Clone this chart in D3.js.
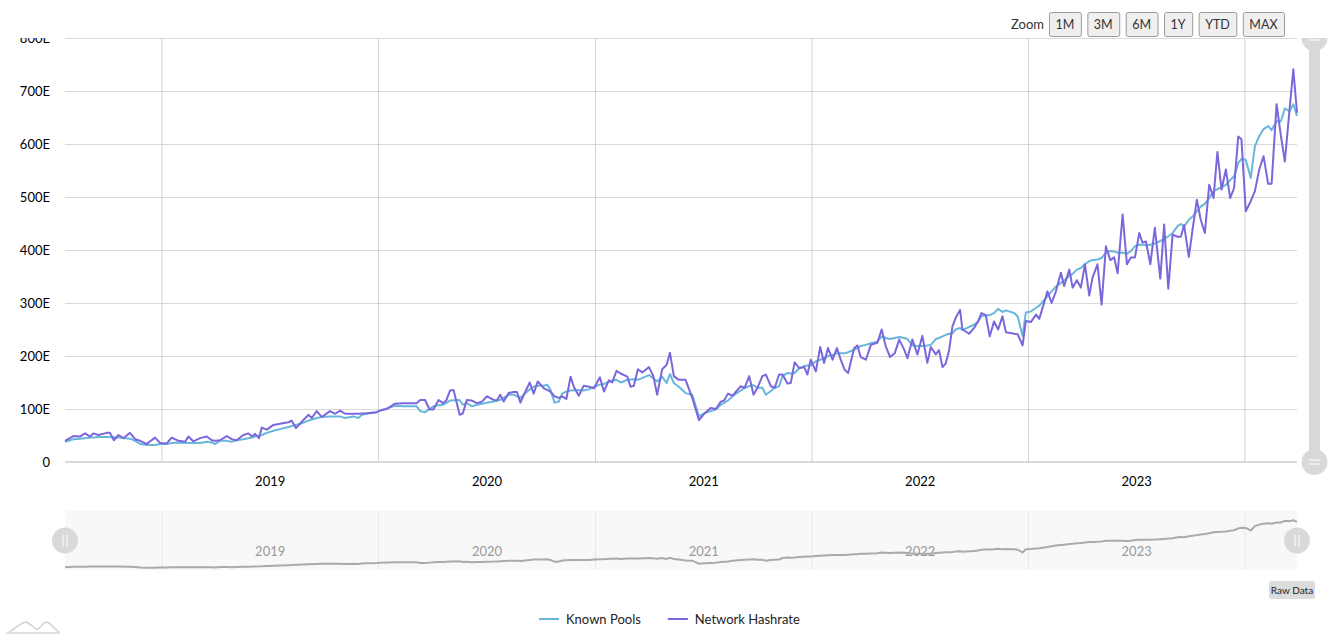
<!DOCTYPE html>
<html>
<head>
<meta charset="utf-8">
<script src="https://cdn.jsdelivr.net/npm/d3@7"></script>
<style>
  body { margin: 0; background: #fff; }
  svg { font-family: Lato, "Open Sans", sans-serif; }
</style>
</head>
<body>
<svg id="chart" width="1344" height="634"></svg>
<script>
// values are [decimal year, hashrate in EH/s]
const yTicks = [0, 100, 200, 300, 400, 500, 600, 700, 800]
const yearTicks = [2019, 2020, 2021, 2022, 2023, 2024]
const yearLabels = [2019, 2020, 2021, 2022, 2023]
const zoomButtons = ['1M', '3M', '6M', '1Y', 'YTD', 'MAX']
const seriesNames = ['Known Pools', 'Network Hashrate']

const knownPools = [
  [2018.552,38],[2018.591,43],[2018.621,44],[2018.645,45],[2018.668,46],[2018.683,46],[2018.706,47],[2018.745,47],
  [2018.799,46],[2018.852,44],[2018.876,40],[2018.899,34],[2018.929,32],[2018.968,32],[2018.991,34],[2019.022,34],
  [2019.045,36],[2019.076,37],[2019.122,36],[2019.145,36],[2019.176,36],[2019.207,38],[2019.230,37],[2019.245,34],
  [2019.268,40],[2019.299,40],[2019.322,38],[2019.345,41],[2019.376,43],[2019.399,45],[2019.415,46],[2019.430,48],
  [2019.461,51],[2019.484,55],[2019.515,59],[2019.545,62],[2019.584,66],[2019.619,70],[2019.646,73],[2019.676,78],
  [2019.715,83],[2019.738,85],[2019.776,86],[2019.823,86],[2019.846,83],[2019.884,86],[2019.907,83],[2019.923,89],
  [2019.946,91],[2019.992,94],
  [2020.007,97],[2020.076,106],[2020.115,105],[2020.176,105],[2020.192,96],[2020.215,94],[2020.235,100],[2020.253,105],
  [2020.277,107],[2020.297,108],[2020.312,111],[2020.330,116],[2020.374,117],[2020.389,108],[2020.407,111],[2020.431,105],
  [2020.454,108],[2020.477,110],[2020.500,112],[2020.531,114],[2020.546,116],[2020.561,117],[2020.600,127],[2020.623,127],
  [2020.638,124],[2020.654,121],[2020.677,130],[2020.697,137],[2020.715,142],[2020.734,144],[2020.762,144],[2020.777,146],
  [2020.792,137],[2020.811,112],[2020.831,114],[2020.846,129],[2020.866,133],[2020.885,135],[2020.923,136],[2020.946,135],
  [2020.970,137],[2020.993,142],[2021.020,146],[2021.039,147],[2021.062,152],[2021.097,155],[2021.116,150],[2021.147,155],
  [2021.177,156],[2021.196,155],[2021.247,164],[2021.285,152],[2021.308,161],[2021.328,149],[2021.344,166],[2021.362,149],
  [2021.385,142],[2021.416,130],[2021.447,127],
  [2021.478,86],[2021.502,92],[2021.532,96],[2021.556,99],[2021.579,108],[2021.612,116],[2021.633,124],[2021.671,135],
  [2021.689,140],[2021.710,143],[2021.730,145],[2021.748,140],[2021.771,140],[2021.787,127],[2021.810,134],[2021.828,140],
  [2021.848,143],[2021.864,162],[2021.887,168],[2021.902,167],[2021.920,168],[2021.941,177],[2021.964,181],[2021.979,182],
  [2021.994,182],[2022.018,190],[2022.038,193],[2022.056,196],[2022.074,200],[2022.095,202],[2022.115,205],[2022.133,205],
  [2022.151,205],[2022.167,207],[2022.195,212],[2022.210,215],[2022.225,219],[2022.249,221],[2022.272,224],[2022.302,227],
  [2022.322,237],[2022.341,234],[2022.361,232],[2022.382,234],[2022.403,236],[2022.426,234],[2022.441,232],[2022.464,220],
  [2022.487,219],[2022.510,219],[2022.533,220],[2022.549,221],[2022.572,232],[2022.587,234],[2022.603,237],[2022.618,240],
  [2022.634,242],[2022.649,243],[2022.664,250],[2022.684,253],[2022.695,249],[2022.726,255],[2022.749,259],[2022.767,265],
  [2022.783,275],[2022.803,277],[2022.821,277],[2022.841,281],[2022.860,289],[2022.880,283],[2022.896,286],[2022.934,281],
  [2022.950,275],[2022.973,238],[2022.988,282],[2023.011,284],[2023.035,291],[2023.050,295],[2023.088,313],[2023.107,322],
  [2023.127,331],[2023.150,338],[2023.165,343],[2023.189,351],[2023.204,355],[2023.224,363],[2023.242,366],[2023.261,373],
  [2023.281,379],[2023.296,381],[2023.319,382],[2023.338,385],[2023.358,395],[2023.378,398],[2023.396,397],[2023.412,395],
  [2023.435,395],[2023.455,393],[2023.473,398],[2023.492,407],[2023.512,410],[2023.527,410],[2023.543,409],[2023.563,410],
  [2023.584,412],[2023.609,417],[2023.627,421],[2023.646,426],[2023.666,432],[2023.689,445],
  [2023.704,449],[2023.719,444],[2023.741,457],[2023.758,463],[2023.778,473],[2023.796,482],[2023.815,487],[2023.835,498],
  [2023.855,511],[2023.873,515],[2023.892,518],[2023.912,523],[2023.932,532],[2023.950,539],[2023.969,564],[2023.984,572],
  [2024.004,570],[2024.027,536],[2024.046,596],[2024.066,615],[2024.086,628],[2024.107,634],[2024.123,626],[2024.146,643],
  [2024.166,643],[2024.184,667],[2024.205,662],[2024.223,675],[2024.240,653]
]

const networkHashrate = [
  [2018.552,40],[2018.591,49],[2018.621,48],[2018.645,54],[2018.668,48],[2018.683,54],[2018.706,51],[2018.745,55],
  [2018.760,55],[2018.778,41],[2018.799,51],[2018.822,45],[2018.852,55],[2018.876,43],[2018.899,40],[2018.929,34],
  [2018.968,46],[2018.991,36],[2019.022,35],[2019.045,46],[2019.076,40],[2019.107,38],[2019.122,48],[2019.145,39],
  [2019.176,45],[2019.207,48],[2019.230,41],[2019.245,40],[2019.268,41],[2019.299,49],[2019.322,43],[2019.345,41],
  [2019.376,51],[2019.399,54],[2019.415,48],[2019.430,53],[2019.448,45],[2019.461,65],[2019.484,61],[2019.515,70],
  [2019.545,72],[2019.584,75],[2019.599,78],[2019.619,64],[2019.646,76],[2019.676,89],[2019.692,83],[2019.715,96],
  [2019.738,85],[2019.776,96],[2019.800,91],[2019.823,97],[2019.846,91],[2019.884,91],[2019.907,91],[2019.946,92],
  [2019.992,94],
  [2020.007,97],[2020.038,100],[2020.076,110],[2020.115,111],[2020.176,111],[2020.192,117],[2020.215,117],[2020.235,99],
  [2020.253,99],[2020.277,117],[2020.297,111],[2020.312,116],[2020.330,135],[2020.346,136],[2020.374,89],[2020.389,92],
  [2020.407,117],[2020.431,116],[2020.454,111],[2020.477,114],[2020.500,124],[2020.531,117],[2020.546,116],[2020.561,127],
  [2020.577,114],[2020.600,130],[2020.623,132],[2020.638,132],[2020.654,112],[2020.677,133],[2020.697,150],[2020.715,129],
  [2020.734,152],[2020.762,139],[2020.777,136],[2020.792,133],[2020.811,124],[2020.831,121],[2020.846,124],[2020.866,119],
  [2020.885,161],[2020.900,142],[2020.923,125],[2020.946,144],[2020.970,142],[2020.993,139],[2021.020,160],[2021.039,133],
  [2021.062,154],[2021.077,150],[2021.097,172],[2021.116,167],[2021.147,161],[2021.162,142],[2021.177,144],[2021.196,175],
  [2021.216,169],[2021.247,179],[2021.267,162],[2021.285,127],[2021.308,175],[2021.328,183],[2021.344,206],[2021.362,162],
  [2021.385,155],[2021.416,155],[2021.447,121],
  [2021.478,79],[2021.502,91],[2021.532,102],[2021.556,100],[2021.579,114],[2021.594,116],[2021.612,129],[2021.633,125],
  [2021.671,143],[2021.689,140],[2021.710,162],[2021.730,127],[2021.748,140],[2021.771,162],[2021.787,165],[2021.810,143],
  [2021.828,140],[2021.848,165],[2021.864,165],[2021.887,148],[2021.902,149],[2021.920,188],[2021.941,177],[2021.964,179],
  [2021.979,165],[2021.994,193],[2022.018,171],[2022.038,217],[2022.056,187],[2022.074,215],[2022.095,193],[2022.115,215],
  [2022.133,193],[2022.151,174],[2022.167,168],[2022.195,215],[2022.210,220],[2022.225,198],[2022.249,193],[2022.272,221],
  [2022.302,225],[2022.322,250],[2022.341,218],[2022.361,198],[2022.382,205],[2022.403,231],[2022.426,212],[2022.441,196],
  [2022.464,231],[2022.487,203],[2022.510,238],[2022.533,187],[2022.549,217],[2022.572,203],[2022.587,211],[2022.603,179],
  [2022.618,186],[2022.634,212],[2022.649,256],[2022.664,272],[2022.684,287],[2022.695,250],[2022.726,242],[2022.749,253],
  [2022.767,265],[2022.783,281],[2022.803,277],[2022.821,237],[2022.841,265],[2022.860,250],[2022.880,275],[2022.896,245],
  [2022.934,242],
  [2022.950,241],[2022.973,220],[2022.988,266],[2023.011,264],[2023.035,278],[2023.050,270],[2023.088,322],[2023.107,300],
  [2023.127,322],[2023.150,357],[2023.165,332],[2023.189,363],[2023.204,329],[2023.224,343],[2023.242,329],[2023.261,373],
  [2023.281,314],[2023.296,348],[2023.319,373],[2023.338,297],[2023.358,407],[2023.378,381],[2023.396,386],[2023.412,356],
  [2023.435,467],[2023.455,373],[2023.473,386],[2023.492,386],[2023.512,432],[2023.527,414],[2023.543,416],[2023.563,373],
  [2023.584,442],[2023.609,346],[2023.627,448],[2023.646,327],[2023.666,429],[2023.689,425],
  [2023.704,425],[2023.719,447],[2023.741,387],[2023.758,438],[2023.778,495],[2023.796,457],[2023.815,432],[2023.835,523],
  [2023.855,498],[2023.873,585],[2023.892,514],[2023.912,552],[2023.932,498],[2023.950,517],[2023.969,614],[2023.984,609],
  [2024.004,473],[2024.027,492],[2024.046,511],[2024.066,552],[2024.086,577],[2024.107,525],[2024.123,525],[2024.146,675],
  [2024.166,615],[2024.184,567],[2024.205,662],[2024.223,741],[2024.240,659]
]

const colors = ['#67b7dc', '#7b67dc']

/** decimal year -> Date */
function toDate(y) {
  const yr = Math.floor(y)
  const s = Date.UTC(yr, 0, 1), e = Date.UTC(yr + 1, 0, 1)
  return new Date(s + (y - yr) * (e - s))
}

const svg = d3.select('#chart')
const plot = {left: 65, right: 1297, top: 38, bottom: 462}
const nav = {top: 511, bottom: 570}

const allPoints = knownPools.concat(networkHashrate)
const x = d3.scaleUtc()
  .domain(d3.extent(allPoints, d => toDate(d[0])))
  .range([plot.left, plot.right])

const y = d3.scaleLinear()
  .domain([0, 800])
  .range([plot.bottom, plot.top])

// clip everything above the plot top (zoom bar area)
const defs = svg.append('defs')
defs.append('clipPath').attr('id', 'topclip')
  .append('rect').attr('x', 0).attr('y', plot.top).attr('width', 1344).attr('height', 600)

const main = svg.append('g').attr('clip-path', 'url(#topclip)')

// horizontal grid
main.append('g')
  .attr('transform', `translate(${plot.left},0)`)
  .call(d3.axisLeft(y).tickValues(yTicks.slice(1)).tickSize(-(plot.right - plot.left)).tickFormat(''))
  .call(g => g.select('.domain').remove())
  .selectAll('line').attr('stroke', '#d9d9d9')

// vertical year grid
main.append('g')
  .selectAll('line')
  .data(yearTicks.map(t => toDate(t)).filter(d => x(d) <= plot.right))
  .join('line')
  .attr('x1', d => x(d)).attr('x2', d => x(d))
  .attr('y1', plot.top).attr('y2', plot.bottom)
  .attr('stroke', '#d4d4d4')

// baseline
main.append('line')
  .attr('x1', plot.left).attr('x2', plot.right)
  .attr('y1', y(0)).attr('y2', y(0))
  .attr('stroke', '#b5b5b5')

// y labels
const yAxis = main.append('g')
  .attr('transform', `translate(${plot.left - 12},0)`)
  .call(d3.axisLeft(y).tickValues(yTicks).tickSize(0).tickFormat(d => d === 0 ? '0' : d + 'E'))
yAxis.select('.domain').remove()
yAxis.selectAll('text')
  .attr('font-family', 'Lato, sans-serif')
  .attr('font-size', 13)
  .attr('fill', '#000')

// x labels at mid-year
svg.append('g')
  .selectAll('text')
  .data(yearLabels)
  .join('text')
  .attr('x', d => x(toDate(d + 0.5)))
  .attr('y', 486)
  .attr('text-anchor', 'middle')
  .attr('font-size', 13)
  .attr('fill', '#000')
  .text(d => d)

// series lines
const line = d3.line()
  .x(d => x(toDate(d[0])))
  .y(d => y(d[1]))

const series = [knownPools, networkHashrate]
main.append('g')
  .selectAll('path')
  .data(series)
  .join('path')
  .attr('d', line)
  .attr('fill', 'none')
  .attr('stroke', (d, i) => colors[i])
  .attr('stroke-width', 2)
  .attr('stroke-linejoin', 'round')

// vertical scrollbar on the right
const sb = main.append('g')
sb.append('rect')
  .attr('x', 1309).attr('y', plot.top).attr('width', 11).attr('height', plot.bottom - plot.top)
  .attr('fill', '#d9d9d9')
;[plot.top, plot.bottom].forEach(cy => {
  sb.append('circle').attr('cx', 1314.5).attr('cy', cy).attr('r', 13).attr('fill', '#d9d9d9')
  ;[-2, 2].forEach(dy => {
    sb.append('line')
      .attr('x1', 1309).attr('x2', 1320).attr('y1', cy + dy).attr('y2', cy + dy)
      .attr('stroke', '#fff').attr('stroke-width', 1)
  })
})

// navigator
const yNav = d3.scaleLinear().domain([0, 800]).range([nav.bottom, nav.top])
const navG = svg.append('g')
navG.append('rect')
  .attr('x', plot.left).attr('y', nav.top)
  .attr('width', plot.right - plot.left).attr('height', nav.bottom - nav.top)
  .attr('fill', '#f8f8f8')
navG.selectAll('.navgrid')
  .data(yearTicks.map(t => toDate(t)).filter(d => x(d) <= plot.right))
  .join('line')
  .attr('class', 'navgrid')
  .attr('x1', d => x(d)).attr('x2', d => x(d))
  .attr('y1', nav.top).attr('y2', nav.bottom)
  .attr('stroke', '#e8e8e8')
navG.selectAll('.navlabel')
  .data(yearLabels)
  .join('text')
  .attr('class', 'navlabel')
  .attr('x', d => x(toDate(d + 0.5)))
  .attr('y', 556)
  .attr('text-anchor', 'middle')
  .attr('font-size', 13)
  .attr('fill', '#999')
  .text(d => d)
navG.append('path')
  .datum(knownPools)
  .attr('d', d3.line().x(d => x(toDate(d[0]))).y(d => yNav(d[1])))
  .attr('fill', 'none')
  .attr('stroke', '#aaa')
  .attr('stroke-width', 2)
;[plot.left, plot.right].forEach(cx => {
  const cy = (nav.top + nav.bottom) / 2
  navG.append('circle').attr('cx', cx).attr('cy', cy).attr('r', 13).attr('fill', '#d9d9d9')
  ;[-2, 2].forEach(dx => {
    navG.append('line')
      .attr('x1', cx + dx).attr('x2', cx + dx).attr('y1', cy - 6).attr('y2', cy + 6)
      .attr('stroke', '#fff').attr('stroke-width', 1)
  })
})

// Raw Data button
const raw = svg.append('g')
raw.append('rect')
  .attr('x', 1269).attr('y', 581).attr('width', 46).attr('height', 18).attr('rx', 2)
  .attr('fill', '#dcdcdc')
raw.append('text')
  .attr('x', 1292).attr('y', 594)
  .attr('text-anchor', 'middle').attr('font-size', 10).attr('fill', '#222')
  .text('Raw Data')

// zoom buttons
const zoomG = svg.append('g')
zoomG.append('text')
  .attr('x', 1044).attr('y', 29)
  .attr('text-anchor', 'end').attr('font-size', 13).attr('fill', '#333')
  .text('Zoom')
let bx = 1049
zoomButtons.forEach(label => {
  const g = zoomG.append('g')
  const t = g.append('text')
    .attr('y', 29).attr('text-anchor', 'middle')
    .attr('font-size', 12.5).attr('fill', '#333')
    .text(label)
  const w = t.node().getComputedTextLength() + 13
  t.attr('x', bx + w / 2)
  g.insert('rect', 'text')
    .attr('x', bx + 0.5).attr('y', 12.5).attr('width', w).attr('height', 24).attr('rx', 2)
    .attr('fill', '#efefef').attr('stroke', '#9a9a9a')
  bx += w + 6.5
})

// legend
const legend = svg.append('g')
let lx = 539
seriesNames.forEach((name, i) => {
  legend.append('line')
    .attr('x1', lx).attr('x2', lx + 20).attr('y1', 619).attr('y2', 619)
    .attr('stroke', colors[i]).attr('stroke-width', 2)
  const t = legend.append('text')
    .attr('x', lx + 27).attr('y', 624)
    .attr('font-size', 13).attr('fill', '#222')
    .text(name)
  lx += 27 + t.node().getComputedTextLength() + 27
})

// small logo bottom-left
svg.append('path')
  .attr('d', d3.line().curve(d3.curveBasis)([[8, 633], [18, 626], [26, 620], [33, 627], [38, 631], [43, 623], [48, 621], [54, 628], [60, 633]]))
  .attr('fill', 'none').attr('stroke', '#cfcfcf').attr('stroke-width', 1.5)
svg.append('line')
  .attr('x1', 6).attr('x2', 60).attr('y1', 633).attr('y2', 633)
  .attr('stroke', '#d8d8d8').attr('stroke-width', 1.5)
</script>
</body>
</html>
